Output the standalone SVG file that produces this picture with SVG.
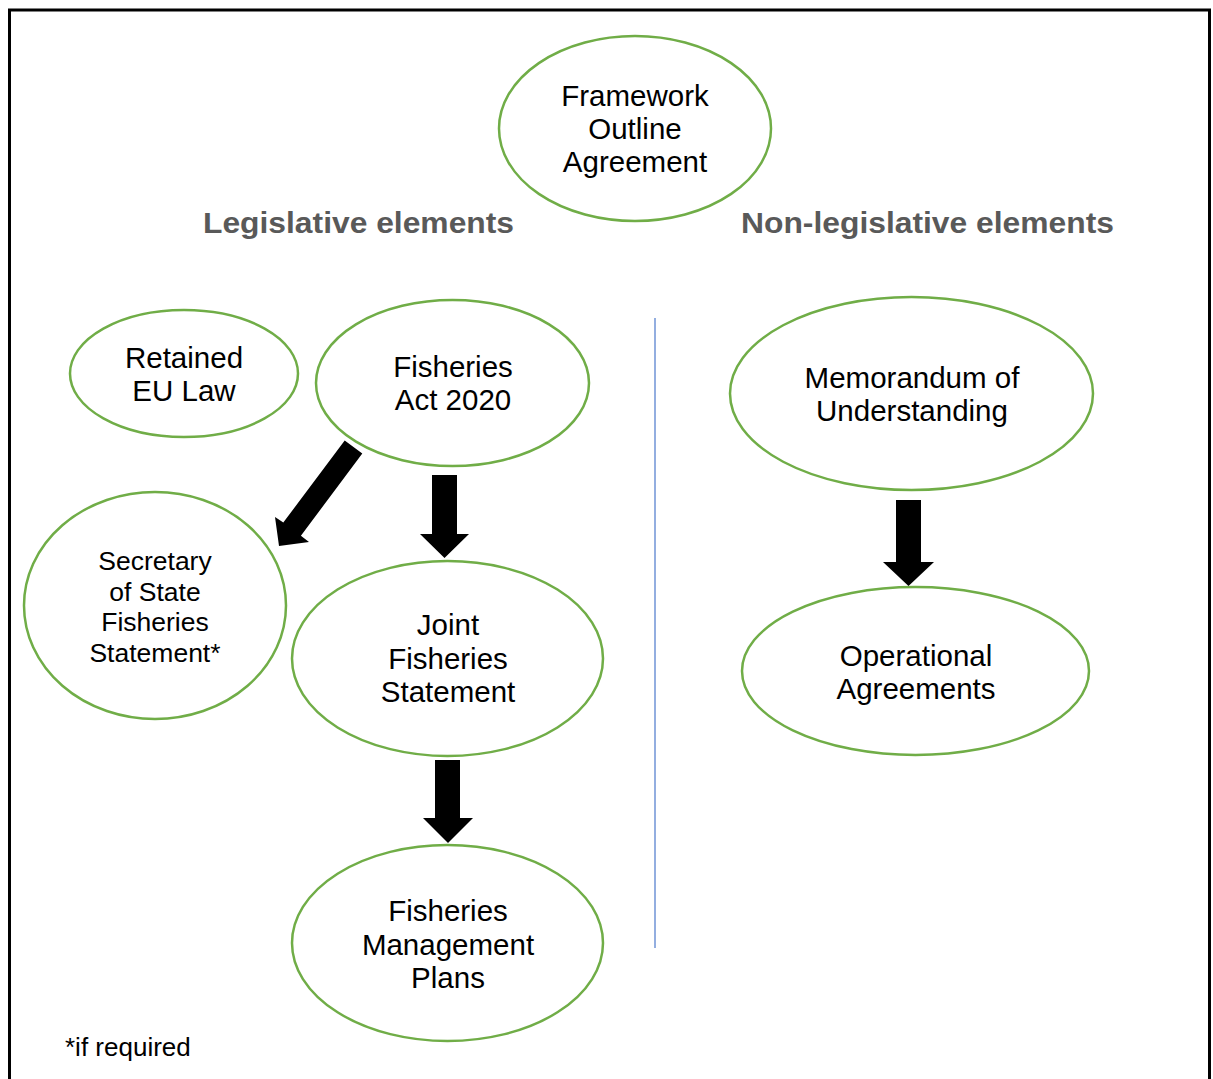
<svg xmlns="http://www.w3.org/2000/svg" width="1213" height="1079" viewBox="0 0 1213 1079">
<style>
.n{fill:#fff;stroke:#70AD47;stroke-width:2.5}
.t{font-family:"Liberation Sans",Arial,sans-serif;font-size:29.5px;fill:#000;text-anchor:middle}
.s{font-size:26.5px}
.h{font-family:"Liberation Sans",Arial,sans-serif;font-size:29px;font-weight:bold;fill:#595959;text-anchor:middle}
.a{fill:#000}
</style>
<rect x="0" y="0" width="1213" height="1079" fill="#fff"/>
<rect x="9.5" y="10" width="1200" height="1100" fill="none" stroke="#000" stroke-width="3"/>
<line x1="655" y1="318" x2="655" y2="948" stroke="#6F93D6" stroke-width="1.5"/>
<text class="h" x="358.5" y="233" textLength="311" lengthAdjust="spacingAndGlyphs">Legislative elements</text>
<text class="h" x="927.5" y="233" textLength="373" lengthAdjust="spacingAndGlyphs">Non-legislative elements</text>
<g id="framework"><ellipse class="n" cx="635" cy="128.5" rx="136" ry="92.5"/><text class="t" x="635" y="106">Framework</text><text class="t" x="635" y="139">Outline</text><text class="t" x="635" y="172">Agreement</text></g>
<g id="retained"><ellipse class="n" cx="184" cy="373.5" rx="114" ry="63.5"/><text class="t" x="184" y="368">Retained</text><text class="t" x="184" y="401">EU Law</text></g>
<g id="act"><ellipse class="n" cx="452.5" cy="383" rx="136.5" ry="83"/><text class="t" x="453" y="377">Fisheries</text><text class="t" x="453" y="410">Act 2020</text></g>
<g id="sos"><ellipse class="n" cx="155" cy="605.5" rx="131" ry="113.5"/><text class="t s" x="155" y="570">Secretary</text><text class="t s" x="155" y="601">of State</text><text class="t s" x="155" y="631">Fisheries</text><text class="t s" x="155" y="662">Statement*</text></g>
<g id="jfs"><ellipse class="n" cx="447.5" cy="658.5" rx="155.5" ry="97.5"/><text class="t" x="448" y="635">Joint</text><text class="t" x="448" y="669">Fisheries</text><text class="t" x="448" y="702">Statement</text></g>
<g id="fmp"><ellipse class="n" cx="447.5" cy="943" rx="155.5" ry="98"/><text class="t" x="448" y="921">Fisheries</text><text class="t" x="448" y="955">Management</text><text class="t" x="448" y="988">Plans</text></g>
<g id="mou"><ellipse class="n" cx="911.5" cy="393.5" rx="181.5" ry="96.5"/><text class="t" x="912" y="388">Memorandum of</text><text class="t" x="912" y="421">Understanding</text></g>
<g id="oa"><ellipse class="n" cx="915.5" cy="671" rx="173.5" ry="84"/><text class="t" x="916" y="666">Operational</text><text class="t" x="916" y="699">Agreements</text></g>
<g id="connectors">
<polygon class="a" points="344.7,440.4 362.3,453.6 300.9,535.7 309,542 279,546 275,517 283.3,522.6"/>
<polygon class="a" points="432,475 457,475 457,534 469,534 444.5,558 420,534 432,534"/>
<polygon class="a" points="435,760 460,760 460,818 473,818 448,843 423,818 435,818"/>
<polygon class="a" points="896,500 921,500 921,562 934,562 908.5,586 883,562 896,562"/>
</g>
<text class="t" x="65" y="1056" style="text-anchor:start;font-size:26px">*if required</text>
</svg>
